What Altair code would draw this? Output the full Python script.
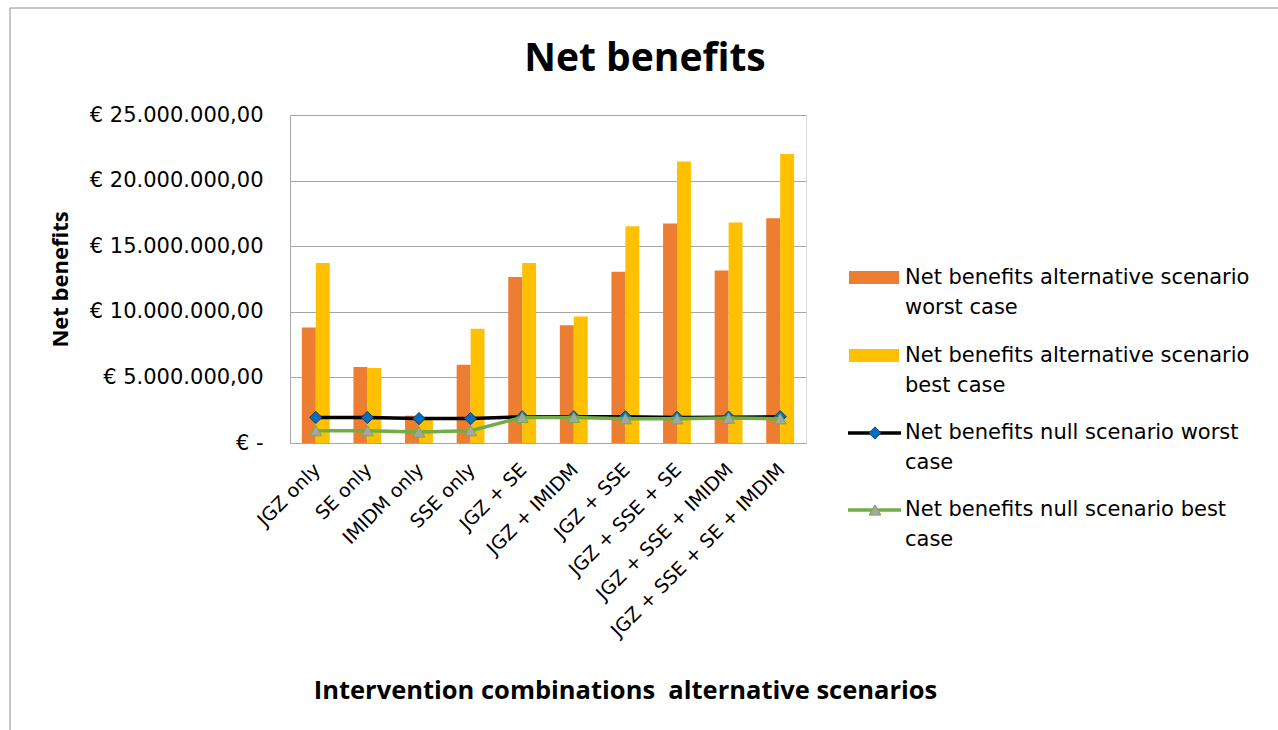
import altair as alt
import pandas as pd

categories = ["JGZ only", "SE only", "IMIDM only", "SSE only", "JGZ + SE", "JGZ + IMIDM",
              "JGZ + SSE", "JGZ + SSE + SE", "JGZ + SSE + IMIDM", "JGZ + SSE + SE + IMDIM"]
alt_worst = [8.81e6, 5.79e6, 2.08e6, 5.96e6, 12.66e6, 8.98e6, 13.05e6, 16.73e6, 13.15e6, 17.13e6]
alt_best = [13.71e6, 5.71e6, 1.78e6, 8.71e6, 13.71e6, 9.64e6, 16.52e6, 21.45e6, 16.80e6, 22.03e6]
null_worst = [1.95e6, 1.95e6, 1.86e6, 1.86e6, 2.0e6, 2.0e6, 2.0e6, 1.95e6, 1.97e6, 2.0e6]
null_best = [0.94e6, 0.94e6, 0.84e6, 0.94e6, 1.95e6, 1.95e6, 1.85e6, 1.85e6, 1.9e6, 1.85e6]
series = ["Net benefits alternative scenario worst case",
          "Net benefits alternative scenario best case",
          "Net benefits null scenario worst case",
          "Net benefits null scenario best case"]
legend_lines = [("Net benefits alternative scenario", "worst case"),
                ("Net benefits alternative scenario", "best case"),
                ("Net benefits null scenario worst", "case"),
                ("Net benefits null scenario best", "case")]
chart_title = "Net benefits"
x_title = "Intervention combinations\u00a0 alternative scenarios"
y_title = "Net benefits"
y_ticks = [0, 5e6, 10e6, 15e6, 20e6, 25e6]

FONT = "DejaVu Sans"
BFONT = "Open Sans"
ORANGE, YELLOW = "#ed7d31", "#ffc000"
BLUE, GREEN, GREY = "#0070c0", "#70ad47", "#a5a5a5"

bars = pd.DataFrame({
    "cat": categories * 2,
    "series": [series[0]] * len(categories) + [series[1]] * len(categories),
    "value": alt_worst + alt_best,
})
lines = pd.DataFrame({"cat": categories, "nw": null_worst, "nb": null_best})
one = pd.DataFrame({"a": [0]})

xenc = alt.X("cat:N", sort=categories,
             scale=alt.Scale(paddingInner=0.46, paddingOuter=0.23),
             axis=alt.Axis(title=x_title,
                           labelAngle=-45, labelAlign="right", labelBaseline="top",
                           labelFontSize=19, labelFont=FONT, labelColor="#000000",
                           labelPadding=17, labelOffset=-5, ticks=False, domainColor="#a6a6a6",
                           titleFont=BFONT, titleFontSize=25.5, titleFontWeight="bold",
                           titleX=335, titleY=247, titleAlign="center", titleBaseline="middle",
                           labelLimit=400))
yscale = alt.Scale(domain=[0, 25e6], nice=False)
yaxis = alt.Axis(values=y_ticks, title=y_title,
                 labelExpr="datum.value == 0 ? '€ -' : '€ ' + replace(format(datum.value, ',.0f'), regexp(',', 'g'), '.') + ',00'",
                 labelFont=FONT, labelFontSize=21, labelColor="#000000", labelPadding=27,
                 ticks=False, gridColor="#a6a6a6", domainColor="#a6a6a6",
                 titleFont=BFONT, titleFontSize=22, titleFontWeight="bold",
                 titleX=-230, titleY=164, titleAngle=-90, titleAlign="center", titleBaseline="middle")

bar = alt.Chart(bars).mark_bar().encode(
    x=xenc,
    xOffset=alt.XOffset("series:N", sort=series[:2]),
    y=alt.Y("value:Q", scale=yscale, axis=yaxis),
    color=alt.Color("series:N", scale=alt.Scale(domain=series[:2], range=[ORANGE, YELLOW]), legend=None),
)

lw = alt.Chart(lines).mark_line(color="#000000", strokeWidth=3.5).encode(
    x=alt.X("cat:N", sort=categories), y=alt.Y("nw:Q", scale=yscale))
pw = alt.Chart(lines).mark_point(shape="diamond", filled=True, fill=BLUE, stroke="#1f3864",
                                 strokeWidth=1, size=150, opacity=1).encode(
    x=alt.X("cat:N", sort=categories), y=alt.Y("nw:Q", scale=yscale))
lb = alt.Chart(lines).mark_line(color=GREEN, strokeWidth=3.5).encode(
    x=alt.X("cat:N", sort=categories), y=alt.Y("nb:Q", scale=yscale))
pb = alt.Chart(lines).mark_point(shape="triangle-up", filled=True, fill=GREY, stroke=GREEN,
                                 strokeWidth=1, size=140, opacity=1).encode(
    x=alt.X("cat:N", sort=categories), y=alt.Y("nb:Q", scale=yscale))

# manual legend, title and frame (pixel offsets relative to plot origin at 290,115)
extra = []
extra.append(alt.Chart(one).mark_rect(fill=None, stroke="#8c8c8c", strokeWidth=1).encode(
    x=alt.value(-280), x2=alt.value(1000), y=alt.value(-107), y2=alt.value(640)))
extra.append(alt.Chart(one).mark_text(align="center", baseline="middle", font=BFONT, fontSize=39,
                                      fontWeight="bold", color="#000000").encode(
    x=alt.value(355), y=alt.value(-56), text=alt.value(chart_title)))
item_y = [163, 241, 318, 395]
for i, (l1, l2) in enumerate(legend_lines):
    yy = item_y[i]
    extra.append(alt.Chart(one).mark_text(align="left", baseline="middle", font=FONT, fontSize=21,
                                          color="#000000").encode(
        x=alt.value(615), y=alt.value(yy), text=alt.value(l1)))
    extra.append(alt.Chart(one).mark_text(align="left", baseline="middle", font=FONT, fontSize=21,
                                          color="#000000").encode(
        x=alt.value(615), y=alt.value(yy + 30), text=alt.value(l2)))
extra.append(alt.Chart(one).mark_rect(color=ORANGE).encode(
    x=alt.value(559), x2=alt.value(609), y=alt.value(156), y2=alt.value(169)))
extra.append(alt.Chart(one).mark_rect(color=YELLOW).encode(
    x=alt.value(559), x2=alt.value(609), y=alt.value(234), y2=alt.value(247)))
extra.append(alt.Chart(one).mark_rule(color="#000000", strokeWidth=3.5).encode(
    x=alt.value(558), x2=alt.value(611), y=alt.value(318)))
extra.append(alt.Chart(one).mark_point(shape="diamond", filled=True, fill=BLUE, stroke="#1f3864",
                                       strokeWidth=1, size=150, opacity=1).encode(
    x=alt.value(585), y=alt.value(318)))
extra.append(alt.Chart(one).mark_rule(color=GREEN, strokeWidth=3.5).encode(
    x=alt.value(558), x2=alt.value(611), y=alt.value(395)))
extra.append(alt.Chart(one).mark_point(shape="triangle-up", filled=True, fill=GREY, stroke=GREEN,
                                       strokeWidth=1, size=140, opacity=1).encode(
    x=alt.value(585), y=alt.value(395)))

chart = alt.layer(bar, lw, pw, lb, pb, *extra).properties(
    width=516, height=328,
    autosize=alt.AutoSizeParams(type="none"),
    padding={"left": 290, "top": 115, "right": 472, "bottom": 287},
).configure_view(stroke=None).configure(background="white")

chart.save("out.html", embed_options={"renderer": "svg", "actions": False})
